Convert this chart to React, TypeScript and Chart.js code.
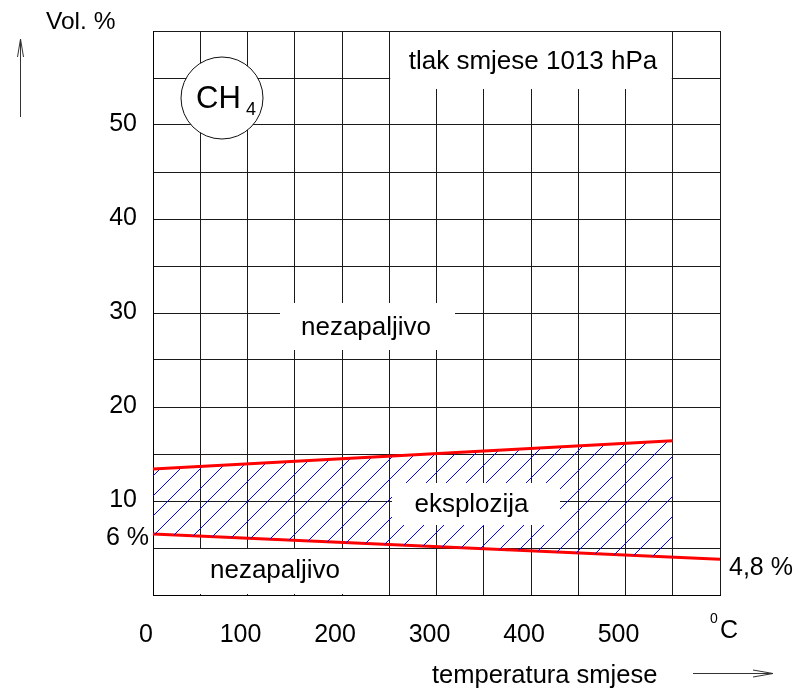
import React, { useEffect, useRef } from 'react';
import { Chart, registerables } from 'chart.js';

Chart.register(...registerables);

// ---- data ----
const upperX = [0, 550];
const upperY = [13.4, 16.4];
const lowerX = [0, 600];
const lowerY = [6.5, 3.8];
const xLabelValues = [0, 100, 200, 300, 400, 500];
const yLabelValues = [10, 20, 30, 40, 50];

const FONT = '"Liberation Sans", Arial, Helvetica, sans-serif';

function makeHatch(): CanvasPattern | string {
  const c = document.createElement('canvas');
  c.width = 20;
  c.height = 20;
  const g = c.getContext('2d');
  if (!g) return 'rgba(0,0,255,0.2)';
  g.strokeStyle = '#0000ff';
  g.lineWidth = 1;
  g.beginPath();
  g.moveTo(-3, 12);
  g.lineTo(12, -3);
  g.moveTo(6, 23);
  g.lineTo(23, 6);
  g.stroke();
  const p = g.createPattern(c, 'repeat');
  return p || 'rgba(0,0,255,0.2)';
}

const decorPlugin = {
  id: 'decor',
  beforeDraw(chart: any) {
    const ctx = chart.ctx;
    ctx.save();
    ctx.fillStyle = '#ffffff';
    ctx.fillRect(0, 0, chart.width, chart.height);
    ctx.restore();
  },
  afterDraw(chart: any) {
    const ctx = chart.ctx;
    const xs = chart.scales.x;
    const ys = chart.scales.y;
    const X = (v: number) => xs.getPixelForValue(v);
    const Y = (v: number) => ys.getPixelForValue(v);
    ctx.save();

    // white boxes behind labels
    const boxes: [number, number, number, number][] = [
      [X(250) + 1, Y(60) + 1, X(550) - 1, 89],
      [280, 303, 455, 350],
      [392, 483, 560, 525],
      [X(0) + 1, Y(5) + 1, X(250) - 1, Y(0) - 1],
    ];
    ctx.fillStyle = '#ffffff';
    boxes.forEach(([x1, y1, x2, y2]) => ctx.fillRect(x1, y1, x2 - x1, y2 - y1));

    // CH4 circle
    ctx.beginPath();
    ctx.arc(222, 98, 41, 0, Math.PI * 2);
    ctx.fillStyle = '#ffffff';
    ctx.fill();
    ctx.lineWidth = 1;
    ctx.strokeStyle = '#111';
    ctx.stroke();

    ctx.fillStyle = '#000';
    ctx.textBaseline = 'alphabetic';

    const txt = (s: string, x: number, y: number, size: number, align: CanvasTextAlign = 'left') => {
      ctx.font = `${size}px ${FONT}`;
      ctx.textAlign = align;
      ctx.fillText(s, x, y);
    };

    txt('CH', 196, 108, 31);
    txt('4', 246, 115, 18);
    txt('tlak smjese 1013 hPa', 533, 69, 26, 'center');
    txt('nezapaljivo', 366, 335, 26, 'center');
    txt('eksplozija', 471.5, 512, 26, 'center');
    txt('nezapaljivo', 275, 578, 26, 'center');
    txt('6 %', 106, 545, 25);
    txt('4,8 %', 729, 575, 25);
    txt('Vol. %', 46, 29, 24.5);
    txt('C', 720, 638, 25);
    txt('0', 710, 623, 14);
    txt('temperatura smjese', 432, 683, 25.5);

    // arrows
    ctx.strokeStyle = '#333';
    ctx.lineWidth = 1;
    ctx.beginPath();
    ctx.moveTo(20.5, 117);
    ctx.lineTo(20.5, 39);
    ctx.moveTo(17.5, 57);
    ctx.lineTo(20.5, 39);
    ctx.lineTo(23.5, 57);
    ctx.moveTo(693, 673.5);
    ctx.lineTo(773, 673.5);
    ctx.moveTo(753, 670);
    ctx.lineTo(773, 673.5);
    ctx.lineTo(753, 677);
    ctx.stroke();

    ctx.restore();
  },
};

export default function App() {
  const ref = useRef<HTMLCanvasElement | null>(null);

  useEffect(() => {
    const canvas = ref.current;
    if (!canvas) return;
    const hatch = makeHatch();
    const chart = new Chart(canvas, {
      type: 'line',
      data: {
        datasets: [
          {
            label: 'gornja granica',
            data: upperX.map((x, i) => ({ x, y: upperY[i] })),
            borderColor: '#ff0000',
            borderWidth: 3,
            pointRadius: 0,
            fill: '+1',
            backgroundColor: hatch as any,
          },
          {
            label: 'donja granica',
            data: lowerX.map((x, i) => ({ x, y: lowerY[i] })),
            borderColor: '#ff0000',
            borderWidth: 3,
            pointRadius: 0,
            fill: false,
          },
        ],
      },
      options: {
        responsive: false,
        animation: false,
        events: [],
        layout: { padding: { left: 0, top: 30, right: 89, bottom: 0 } },
        plugins: {
          legend: { display: false },
          tooltip: { enabled: false },
          title: { display: false },
        },
        scales: {
          x: {
            type: 'linear',
            min: 0,
            max: 600,
            afterFit: (s: any) => { s.height = 95; },
            grid: { color: '#1a1a1a', lineWidth: 1, drawTicks: false },
            border: { color: '#000', width: 1 },
            ticks: {
              stepSize: 50,
              autoSkip: false,
              maxRotation: 0,
              padding: 25,
              labelOffset: -7,
              color: '#000',
              font: { family: FONT, size: 25 },
              callback: (v: any) => (xLabelValues.includes(Number(v)) ? String(v) : ''),
            },
          },
          y: {
            type: 'linear',
            min: 0,
            max: 60,
            afterFit: (s: any) => { s.width = 153; },
            grid: { color: '#1a1a1a', lineWidth: 1, drawTicks: false },
            border: { color: '#000', width: 1 },
            ticks: {
              stepSize: 5,
              autoSkip: false,
              padding: 16,
              labelOffset: -1,
              color: '#000',
              font: { family: FONT, size: 25 },
              callback: (v: any) => (yLabelValues.includes(Number(v)) ? String(v) : ''),
            },
          },
        },
      },
      plugins: [decorPlugin],
    });
    return () => chart.destroy();
  }, []);

  return (
    <div style={{ position: 'absolute', left: 0, top: 0, width: 809, height: 690, background: '#fff' }}>
      <canvas ref={ref} width={809} height={690} style={{ display: 'block', width: 809, height: 690 }} />
    </div>
  );
}
